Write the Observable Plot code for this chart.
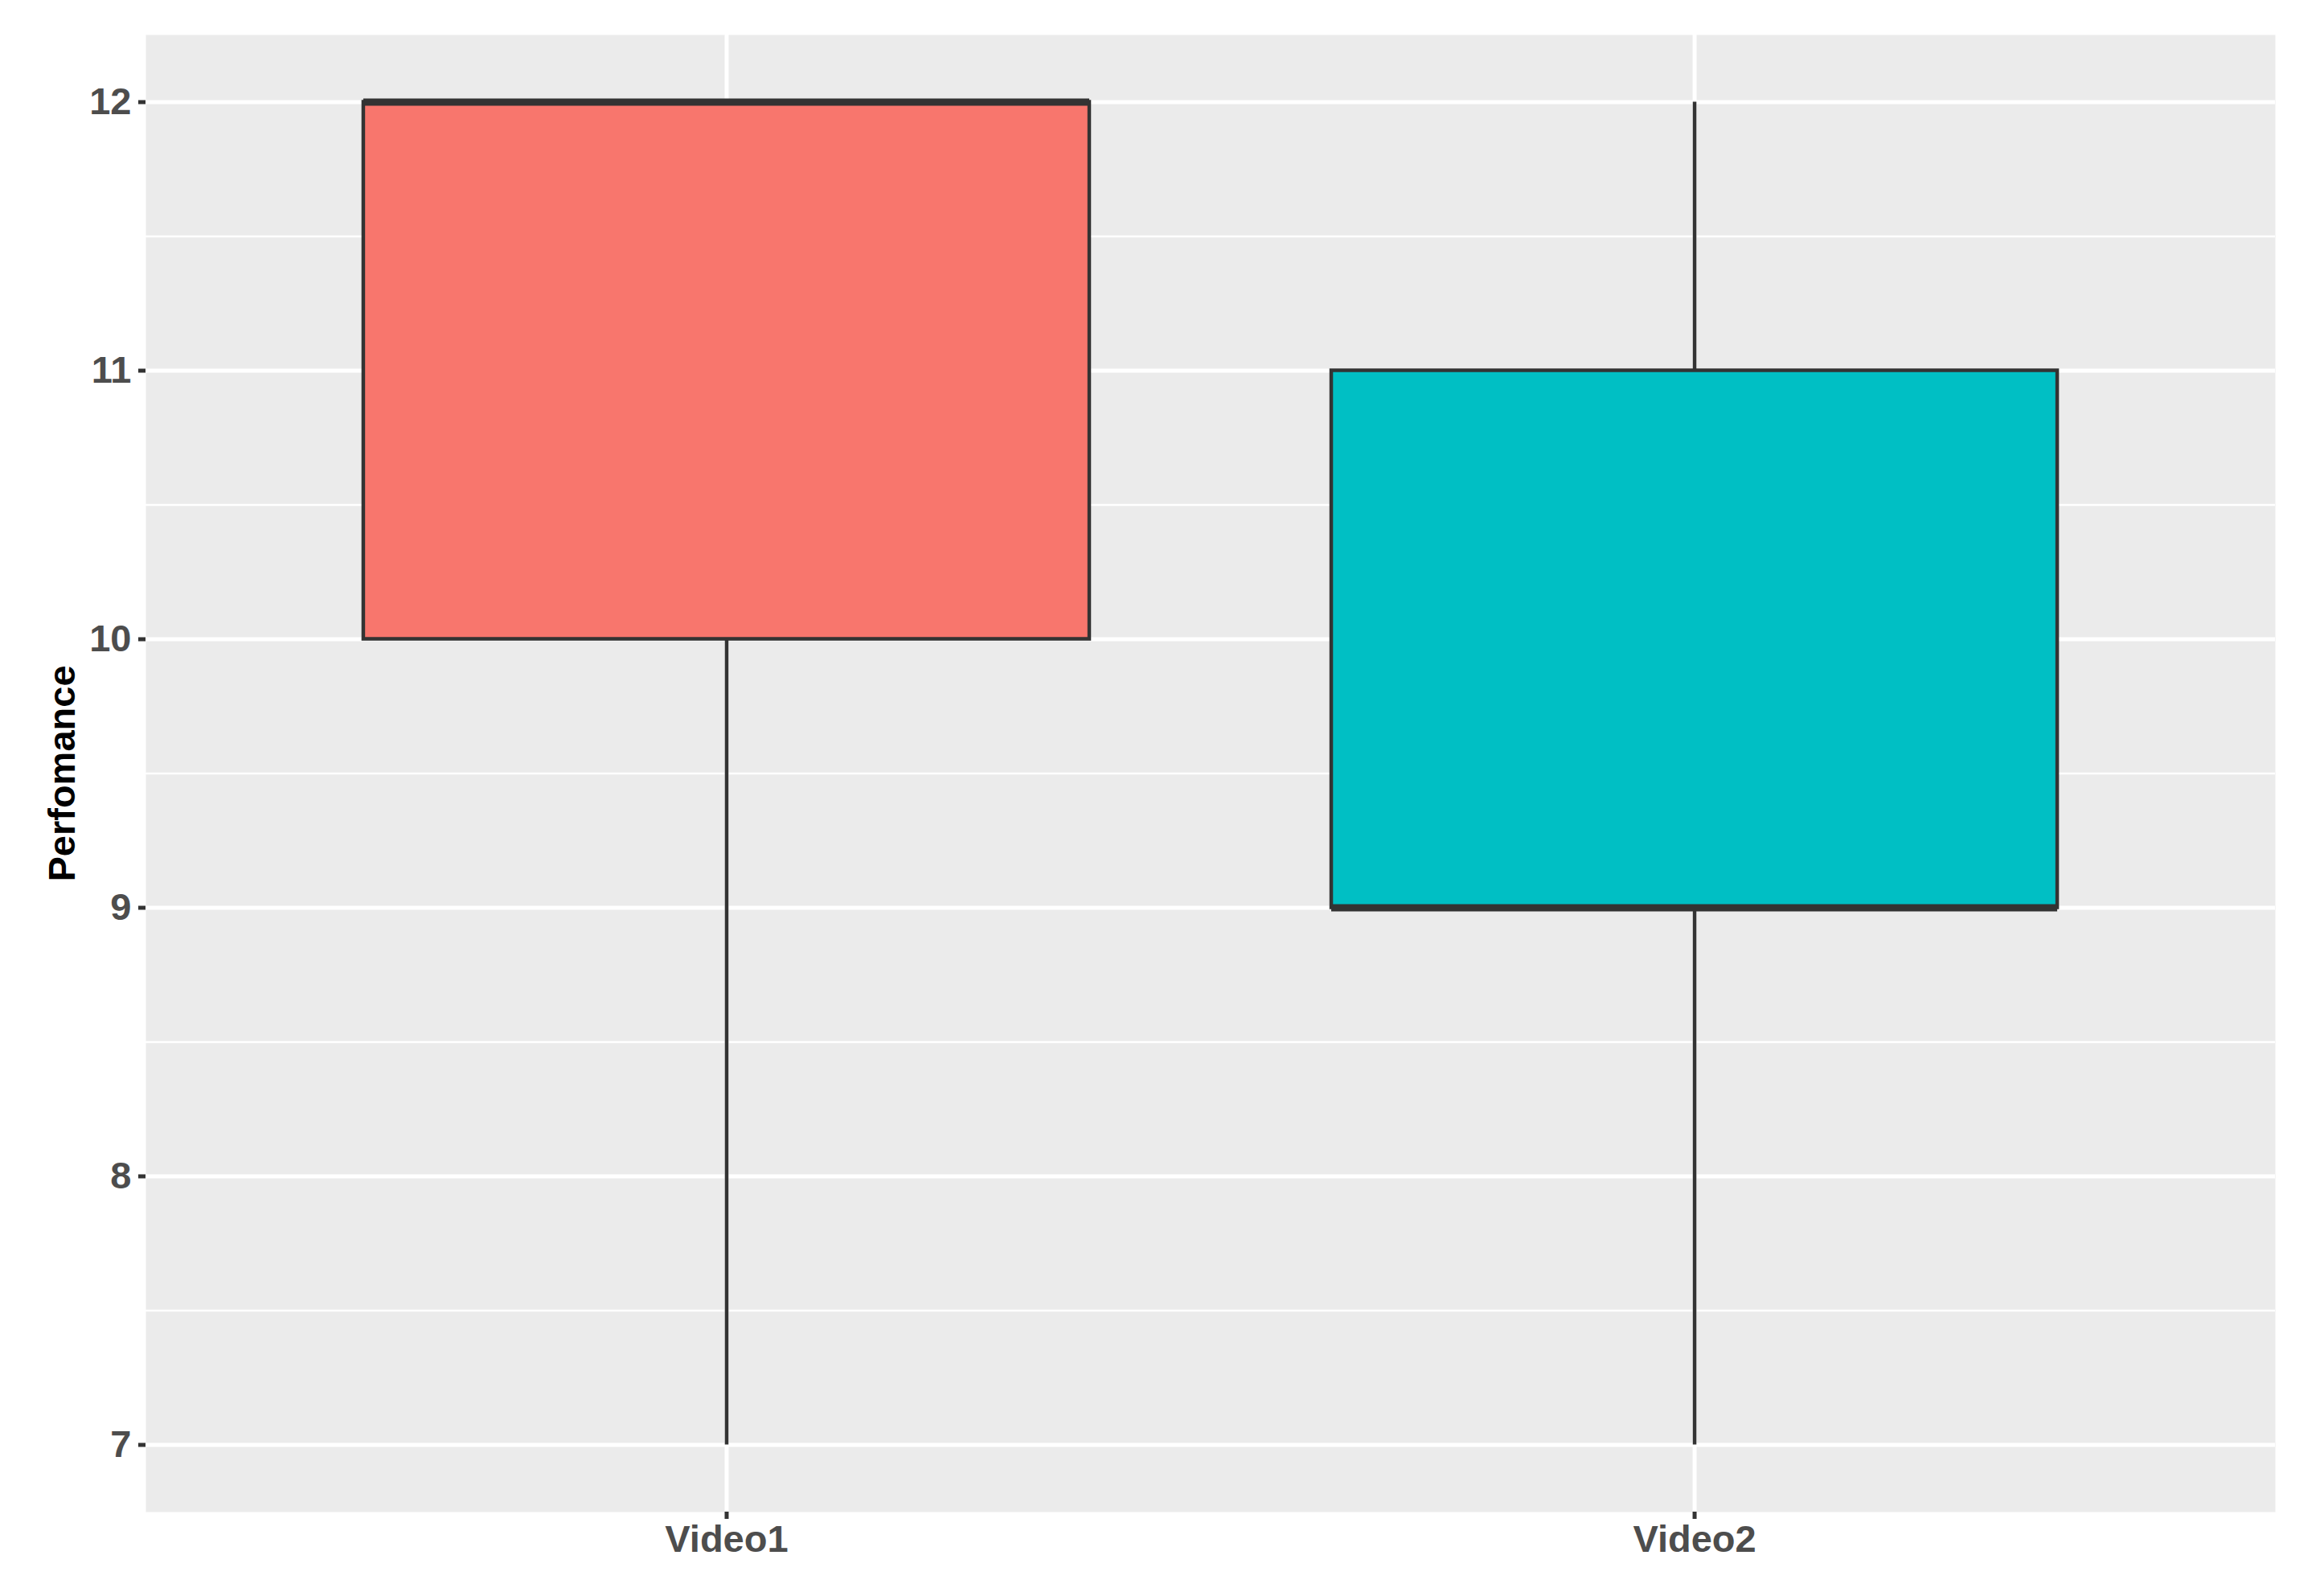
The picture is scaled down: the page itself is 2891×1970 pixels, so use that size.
<!DOCTYPE html>
<html>
<head>
<meta charset="utf-8">
<script src="https://cdn.jsdelivr.net/npm/d3@7"></script>
<script src="https://cdn.jsdelivr.net/npm/@observablehq/plot@0.6"></script>
<style>
  html, body { margin: 0; padding: 0; background: #ffffff; }
</style>
</head>
<body>
<div id="chart"></div>
<script>
const categories = ["Video1", "Video2"];
const lowerWhisker = [7, 7];
const q1 = [10, 9];
const median = [12, 9];
const q3 = [12, 11];
const upperWhisker = [12, 12];
const fills = ["#F8766D", "#00BFC4"];
const yMajorTicks = [7, 8, 9, 10, 11, 12];
const yMinorTicks = [7.5, 8.5, 9.5, 10.5, 11.5];
const yLabel = "Perfomance";

const rows = categories.map((c, i) => ({
  cat: c, lo: lowerWhisker[i], q1: q1[i], med: median[i], q3: q3[i], hi: upperWhisker[i], fill: fills[i]
}));

const chart = Plot.plot({
  width: 2891,
  height: 1970,
  marginLeft: 181,
  marginRight: 61,
  marginTop: 43,
  marginBottom: 90,
  style: {fontFamily: "'Liberation Sans', Arial, sans-serif", fontWeight: "bold", fontSize: "47px", background: "#ffffff"},
  x: {type: "band", domain: categories, paddingInner: 0.25, paddingOuter: 0.225, round: false, label: null},
  y: {domain: [6.75, 12.25], label: null},
  marks: [
    Plot.frame({fill: "#EBEBEB", stroke: null}),
    Plot.ruleY(yMinorTicks, {stroke: "#ffffff", strokeWidth: 2.5}),
    Plot.ruleY(yMajorTicks, {stroke: "#ffffff", strokeWidth: 5}),
    Plot.ruleX(categories, {x: d => d, stroke: "#ffffff", strokeWidth: 5}),
    Plot.ruleX(rows, {x: "cat", y1: "lo", y2: "q1", stroke: "#333333", strokeWidth: 4.5}),
    Plot.ruleX(rows, {x: "cat", y1: "q3", y2: "hi", stroke: "#333333", strokeWidth: 4.5}),
    Plot.barY(rows, {x: "cat", y1: "q1", y2: "q3", fill: d => d.fill, stroke: "#333333", strokeWidth: 4.5}),
    Plot.tickY(rows, {x: "cat", y: "med", stroke: "#333333", strokeWidth: 9}),
    Plot.axisY(yMajorTicks, {tickSize: 9, tickPadding: 9, tickFormat: d3.format("d"), stroke: "#333333", strokeWidth: 5, fill: "#4D4D4D", label: null}),
    Plot.axisX({tickSize: 9, tickPadding: 7, stroke: "#333333", strokeWidth: 5, fill: "#4D4D4D", label: null}),
    Plot.text([yLabel], {frameAnchor: "left", textAnchor: "middle", dx: -104, rotate: -90, text: d => d, fill: "#000000", fontSize: 47, fontWeight: "bold"})
  ]
});
document.getElementById("chart").appendChild(chart);
</script>
</body>
</html>
